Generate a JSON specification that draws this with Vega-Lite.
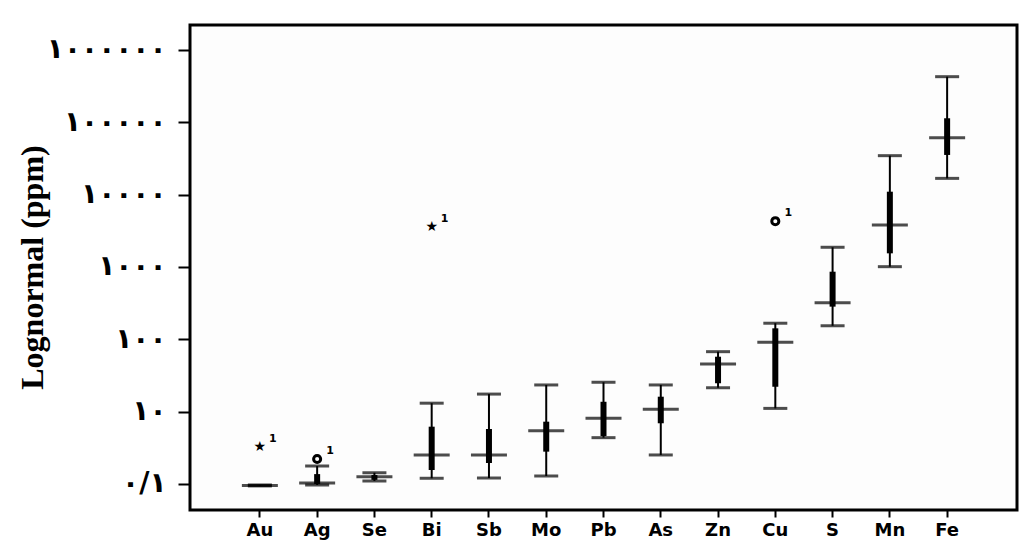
{
  "$schema": "https://vega.github.io/schema/vega-lite/v6.json",
  "width": 827,
  "height": 485,
  "autosize": {"type": "none"},
  "padding": {"left": 190, "top": 25, "right": 7, "bottom": 45},
  "background": "white",
  "config": {
    "view": {"stroke": "black", "strokeWidth": 3, "fill": "#fdfdfd"},
    "axis": {"grid": false, "domain": false, "tickColor": "black", "labelColor": "black", "titleColor": "black"}
  },
  "datasets": {
    "boxes": [
      {"element": "Au", "min": 0.94, "q1": 0.95, "median": 0.955, "q3": 0.96, "max": 0.97},
      {"element": "Ag", "min": 0.97, "q1": 1.0, "median": 1.03, "q3": 1.37, "max": 1.77},
      {"element": "Se", "min": 1.10, "q1": 1.14, "median": 1.26, "q3": 1.33, "max": 1.43},
      {"element": "Bi", "min": 1.20, "q1": 1.56, "median": 2.52, "q3": 6.2, "max": 13.1},
      {"element": "Sb", "min": 1.21, "q1": 1.95, "median": 2.52, "q3": 5.76, "max": 17.5},
      {"element": "Mo", "min": 1.29, "q1": 2.8, "median": 5.46, "q3": 7.27, "max": 23.4},
      {"element": "Pb", "min": 4.37, "q1": 4.6, "median": 8.09, "q3": 13.7, "max": 25.5},
      {"element": "As", "min": 2.52, "q1": 6.91, "median": 10.8, "q3": 16.1, "max": 23.4},
      {"element": "Zn", "min": 21.4, "q1": 24.7, "median": 45.6, "q3": 57.5, "max": 67.5},
      {"element": "Cu", "min": 11.1, "q1": 22.1, "median": 91.0, "q3": 142, "max": 167},
      {"element": "S", "min": 154, "q1": 283, "median": 321, "q3": 861, "max": 1874},
      {"element": "Mn", "min": 1010, "q1": 1545, "median": 3810, "q3": 10990, "max": 34600},
      {"element": "Fe", "min": 16800, "q1": 35400, "median": 61400, "q3": 113800, "max": 427600}
    ],
    "outliers": [
      {"element": "Au", "value": 3.25, "symbol": "★", "case": "1"},
      {"element": "Ag", "value": 2.22, "symbol": "o", "case": "1"},
      {"element": "Bi", "value": 3600, "symbol": "★", "case": "1"},
      {"element": "Cu", "value": 4300, "symbol": "o", "case": "1"}
    ]
  },
  "data": {"name": "boxes"},
  "encoding": {
    "x": {
      "field": "element",
      "type": "nominal",
      "scale": {"type": "band", "paddingInner": 0, "paddingOuter": 0.72, "domain": ["Au", "Ag", "Se", "Bi", "Sb", "Mo", "Pb", "As", "Zn", "Cu", "S", "Mn", "Fe"]},
      "axis": {
        "title": null,
        "labelAngle": 0,
        "labelFont": "DejaVu Sans",
        "labelFontWeight": "bold",
        "labelFontSize": 18,
        "tickSize": 7,
        "tickWidth": 2,
        "labelPadding": 4
      }
    }
  },
  "layer": [
    {
      "mark": {"type": "rule", "color": "black", "strokeWidth": 2},
      "encoding": {
        "y": {
          "field": "min",
          "type": "quantitative",
          "scale": {"type": "log", "domain": [0.437, 2216000], "nice": false},
          "axis": {
            "title": "Lognormal (ppm)",
            "titleFont": "Liberation Serif",
            "titleFontWeight": "bold",
            "titleFontSize": 32,
            "titleX": -158,
            "titleY": 242,
            "titleAngle": -90,
            "titleAlign": "center",
            "titleBaseline": "middle",
            "values": [1, 10, 100, 1000, 10000, 100000, 1000000],
            "labelExpr": "datum.value == 1 ? '۰/۱' : datum.value == 10 ? '۱۰' : datum.value == 100 ? '۱۰۰' : datum.value == 1000 ? '۱۰۰۰' : datum.value == 10000 ? '۱۰۰۰۰' : datum.value == 100000 ? '۱۰۰۰۰۰' : '۱۰۰۰۰۰۰'",
            "labelFont": "DejaVu Sans",
            "labelFontSize": 28,
            "labelFontWeight": "bold",
            "tickSize": 12,
            "tickWidth": 2,
            "labelPadding": 12
          }
        },
        "y2": {"field": "max"}
      }
    },
    {
      "mark": {"type": "rule", "color": "black", "strokeWidth": 6},
      "encoding": {"y": {"field": "q1", "type": "quantitative"}, "y2": {"field": "q3"}}
    },
    {
      "mark": {"type": "tick", "color": "black", "size": 24, "thickness": 3, "orient": "horizontal"},
      "encoding": {"y": {"field": "min", "type": "quantitative"}}
    },
    {
      "mark": {"type": "tick", "color": "black", "size": 24, "thickness": 3, "orient": "horizontal"},
      "encoding": {"y": {"field": "max", "type": "quantitative"}}
    },
    {
      "mark": {"type": "tick", "color": "black", "size": 36, "thickness": 3, "orient": "horizontal"},
      "encoding": {"y": {"field": "median", "type": "quantitative"}}
    },
    {
      "data": {"name": "outliers"},
      "transform": [{"filter": "datum.symbol == 'o'"}],
      "mark": {"type": "point", "shape": "circle", "filled": false, "color": "black", "opacity": 1, "strokeWidth": 3, "size": 50},
      "encoding": {"y": {"field": "value", "type": "quantitative"}}
    },
    {
      "data": {"name": "outliers"},
      "transform": [{"filter": "datum.symbol == '★'"}],
      "mark": {"type": "text", "color": "black", "fontSize": 14, "font": "DejaVu Sans", "baseline": "middle", "align": "center"},
      "encoding": {"y": {"field": "value", "type": "quantitative"}, "text": {"field": "symbol"}}
    },
    {
      "data": {"name": "outliers"},
      "mark": {"type": "text", "color": "black", "fontSize": 11, "fontWeight": "bold", "font": "DejaVu Sans", "baseline": "middle", "align": "center", "dx": 13, "dy": -8},
      "encoding": {"y": {"field": "value", "type": "quantitative"}, "text": {"field": "case"}}
    }
  ]
}
